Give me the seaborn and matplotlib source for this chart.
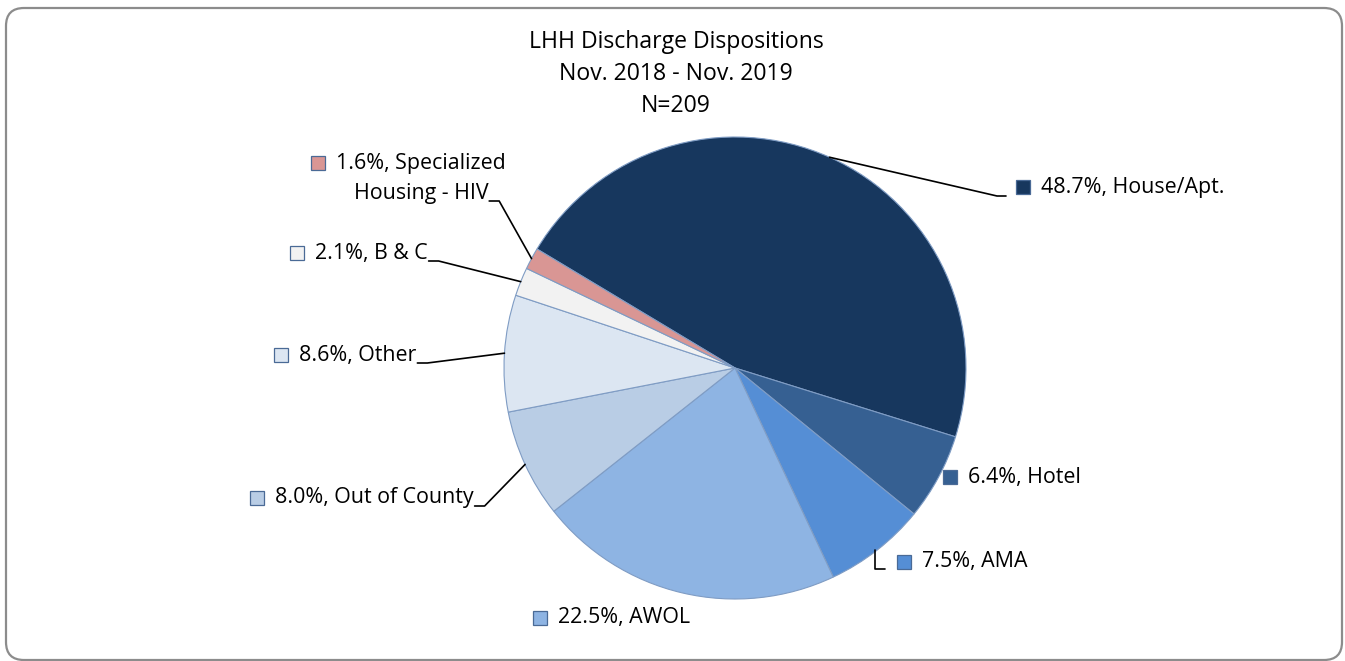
import numpy as np
import matplotlib.pyplot as plt
import seaborn as sns
from matplotlib.patches import Rectangle, FancyBboxPatch

#region data
categories = ['House/Apt.', 'Hotel', 'AMA', 'AWOL', 'Out of County', 'Other', 'B & C',
              'Specialized Housing - HIV']
percents = [48.7, 6.4, 7.5, 22.5, 8.0, 8.6, 2.1, 1.6]
colors = ['#17375E', '#366092', '#558ED5', '#8EB4E3', '#B9CDE5', '#DCE6F2', '#F2F2F2', '#D99694']
title_lines = ['LHH Discharge Dispositions', 'Nov. 2018 - Nov. 2019', 'N=209']
#endregion

#region layout (pixels, y measured from top)
W, H = 1345, 661
sq_x = [1016, 943, 897, 533, 250, 274, 290, 311]
lab_y = [187, 477, 562, 618, 498, 355, 253, 163]
leader = ['right', None, 'down', None, 'left', 'left', 'left', 'left']
title_y = [42, 74, 106]
FS = 15.4
FS_TITLE = 16.6
#endregion

sns.set_theme(style='white')
plt.rcParams['font.family'] = ['Open Sans', 'DejaVu Sans']
plt.rcParams['text.color'] = 'black'

fig = plt.figure(figsize=(W / 100, H / 100), dpi=100)
ax = fig.add_axes([0, 0, 1, 1])
wedges, _ = ax.pie(percents, colors=colors, startangle=149, counterclock=False,
                   center=(735, H - 368), radius=231,
                   wedgeprops=dict(edgecolor='#7F9CC4', linewidth=0.8))
ax.set_xlim(0, W)
ax.set_ylim(0, H)
ax.set_aspect('equal')
ax.axis('off')

# outer rounded frame
ax.add_patch(FancyBboxPatch((6, H - 660), 1336, 652,
                            boxstyle='round,pad=0,rounding_size=18',
                            fill=False, ec='#8C8C8C', lw=1.6, clip_on=False))

for t, y in zip(title_lines, title_y):
    ax.text(676, H - y, t, ha='center', va='center', fontsize=FS_TITLE, color='black')

renderer = fig.canvas.get_renderer()


def right_end(txt):
    bb = txt.get_window_extent(renderer).transformed(ax.transData.inverted())
    return bb.x1


for i, w in enumerate(wedges):
    y = H - lab_y[i]
    ax.add_patch(Rectangle((sq_x[i], y - 7), 14, 14, fc=colors[i], ec='#4A6A96', lw=0.9))
    val = f'{percents[i]:.1f}%'
    if i == 7:
        t1 = ax.text(sq_x[i] + 25, y, f'{val}, Specialized', ha='left', va='center',
                     fontsize=FS, color='black')
        x_mid = (sq_x[i] + 25 + right_end(t1)) / 2
        t = ax.text(x_mid, y - 30, 'Housing - HIV', ha='center', va='center',
                    fontsize=FS, color='black')
        y_line = y - 30 - 8
    else:
        t = ax.text(sq_x[i] + 25, y, f'{val}, {categories[i]}', ha='left', va='center',
                    fontsize=FS, color='black')
        y_line = y - 8

    mid = np.deg2rad((w.theta1 + w.theta2) / 2)
    ex = w.center[0] + w.r * np.cos(mid)
    ey = w.center[1] + w.r * np.sin(mid)
    kind = leader[i]
    if kind == 'left':
        xe = right_end(t)
        ax.plot([xe + 1, xe + 11, ex], [y_line, y_line, ey], color='black', lw=1.2)
    elif kind == 'right':
        ax.plot([ex, sq_x[i] - 19, sq_x[i] - 10], [ey, y - 9, y - 9], color='black', lw=1.2)
    elif kind == 'down':
        ax.plot([ex - 2, ex - 2, sq_x[i] - 12], [ey, y - 7, y - 7], color='black', lw=1.2)

fig.savefig('out.png', dpi=100)
